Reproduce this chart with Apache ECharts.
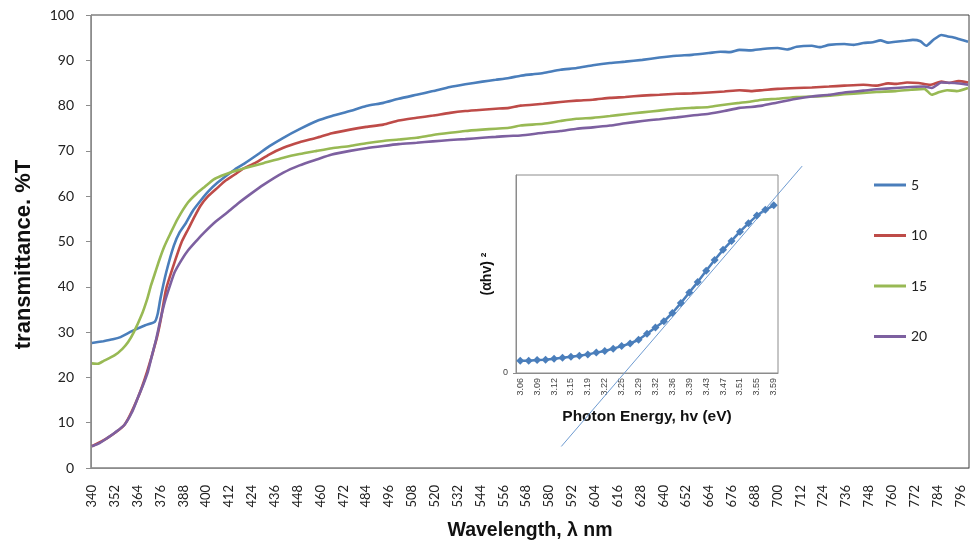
<!DOCTYPE html>
<html><head><meta charset="utf-8">
<script src="https://cdn.jsdelivr.net/npm/echarts/dist/echarts.min.js"></script>
<style>html,body{margin:0;padding:0;background:#fff}#c{width:973px;height:546px}</style>
</head><body><div id="c"></div>
<script>
// ---- main chart: wavelength categories (tick labels every 12 nm) ----
const wlStart = 340, wlEnd = 800;
const wlCategories = [];
for (let w = wlStart; w <= wlEnd; w++) wlCategories.push(String(w));
const seriesNames = ['5', '10', '15', '20'];

const wl5 = [340,346,351,355,361,368,373,374.5,376,379,383,386,389.5,393,397,401,406,415,420,427,433,440.5,449,458,466,475.5,484,493,501,510.5,519,528,536,545,552,559,565,571,577,586,594.5,603,612,620,629,638,647,655,664,670,675,680,686,692,700,705,710,718,722,727,735,740,745,750,754,758,762,767,771,775,778,782,786,789,792,796,800];
const t5  = [27.6,28.0,28.4,28.9,30.2,31.5,32.3,34,37.5,43.2,49.1,52,54.2,56.8,59,61,63,65.9,67.2,69.2,71.0,72.9,74.8,76.6,77.7,78.8,79.9,80.6,81.5,82.4,83.2,84.1,84.7,85.3,85.7,86.1,86.6,86.9,87.2,87.9,88.3,88.9,89.4,89.7,90.1,90.6,91,91.2,91.6,91.9,91.8,92.3,92.2,92.5,92.7,92.4,93,93.2,92.9,93.4,93.6,93.4,93.8,94.0,94.4,93.9,94.1,94.3,94.5,94.2,93.2,94.6,95.6,95.3,95.1,94.6,94.1];

const wl10 = [340,348,357,364,369,374,376,379,384,387,390.5,394,397,401,406,410,415,419,426,433,440.5,449,458,466,475.5,484,493,501,510.5,519,528,536,545,552,559,565,577,586,594.5,603,612,620,629,638,647,655,664,672,680,686,692,700,710,718,727,735,745,752,758,762,768,774,780,786,790,795,800];
const t10  = [4.8,6.6,9.5,15.4,21.3,28.6,32.5,39.6,46.2,49.8,52.7,55.6,57.9,60,61.9,63.4,64.8,66,67.4,69.2,70.7,71.9,72.9,73.9,74.7,75.3,75.8,76.7,77.3,77.8,78.4,78.8,79.1,79.3,79.5,80,80.4,80.8,81.1,81.3,81.7,81.9,82.2,82.4,82.6,82.7,82.9,83.1,83.4,83.2,83.4,83.7,83.9,84.0,84.2,84.4,84.6,84.4,84.9,84.8,85.1,85,84.6,85.3,85.0,85.4,85.1];

const wl15 = [340,343,346,352,356,359,362,366,369,371,373.5,375.6,378,381,385,390.4,395,399,404,408,413,418,423,430,440.5,449,458,466,475.5,484,493,501,510.5,519,528,536,545,552,559,565,577,586,594.5,603,612,620,629,638,647,655,664,672,680,686,692,700,710,718,727,735,745,752,762,770,777,781,785,789,794,800];
const t15  = [23.1,23.0,23.6,24.9,26.3,27.8,30,33.7,37.3,40.3,43.5,46.2,48.9,51.6,55,58.6,60.6,62,63.7,64.5,65.3,65.9,66.5,67.3,68.5,69.3,70,70.6,71.1,71.7,72.2,72.5,72.9,73.5,74,74.4,74.7,74.9,75.1,75.6,76,76.6,77.1,77.3,77.7,78.1,78.5,78.9,79.3,79.5,79.7,80.2,80.6,80.9,81.3,81.5,81.9,82.0,82.2,82.5,82.8,83.0,83.2,83.5,83.7,82.4,83.0,83.4,83.2,83.9];

const wl20 = [340,344,348,352,357,361,364,367,369.4,371.5,373.8,376,378.2,381,383.4,387,390.4,395,399,405,411,417,423,430,440.5,449,458,466,475.5,484,493,501,510.5,519,528,536,545,552,559,565,577,586,594.5,603,612,620,629,638,647,655,664,672,680,686,692,700,710,718,727,735,745,752,762,770,777,781,786,793,800];
const t20  = [4.8,5.5,6.6,7.8,9.5,12.3,15.4,18.5,21.3,24.8,28.6,32.8,36.6,40.3,43.2,45.9,48,50.2,52,54.4,56.4,58.5,60.4,62.5,65.2,66.8,68.1,69.2,70,70.6,71.1,71.5,71.8,72.1,72.4,72.6,72.9,73.1,73.3,73.4,74,74.4,74.9,75.2,75.6,76.1,76.6,77.0,77.4,77.8,78.2,78.8,79.5,79.7,80,80.7,81.5,82.0,82.4,82.9,83.3,83.6,83.9,84.1,84.2,83.9,85.1,85.0,84.6];

const yMin = 0, yMax = 100, yStep = 10;

// ---- inset: Tauc plot ----
const energyLabels = ['3.06','3.08','3.09','3.11','3.12','3.14','3.15','3.17','3.19','3.20','3.22','3.24','3.25','3.27','3.29','3.31','3.32','3.34','3.36','3.38','3.39','3.41','3.43','3.45','3.47','3.49','3.51','3.53','3.55','3.57','3.59'];
const alphaHv2 = [6.2,6.2,6.6,6.7,7.2,7.7,8.2,8.7,9.4,10.3,11.1,12.3,13.6,14.9,16.8,19.8,23.0,26.1,30.3,35.3,40.7,45.9,51.6,57.1,62.2,66.7,71.4,75.6,79.5,82.4,84.7];
const insetYTicks = [0];
// tangent line end points (x in category-index units, y in inset units)
const tangentX = [4.86, 33.36];
const tangentY = [-37.1, 104.5];

const colors = ['#4A7EBB', '#BE4B48', '#98B954', '#7D60A0'];
const zip = (a, b) => a.map((v, i) => [v, b[i]]);
const mainData = [zip(wl5, t5), zip(wl10, t10), zip(wl15, t15), zip(wl20, t20)];

// inset geometry: index -0.5..30.5 over 262 px, value 0..100 over 198 px
const inL = 516, inT = 175, inW = 262, inH = 198;
const pxPerIdx = inW / energyLabels.length, pxPerVal = inH / 100;
// overlay grid with the same scale, larger extent, for the tangent line
const ovXMin = -0.5, ovXMax = 34.5, ovYMin = -40, ovYMax = 110;

const chart = echarts.init(document.getElementById('c'), null, {renderer: 'canvas'});
const axisGray = '#8c8c8c';
const option = {
  animation: false,
  backgroundColor: '#fff',
  grid: [
    {left: 91, right: 4, top: 15, bottom: 76, show: true, borderColor: '#404040', borderWidth: 1},
    {left: inL, top: inT, width: inW, height: inH, show: true, borderColor: axisGray, borderWidth: 1, backgroundColor: '#fff'},
    {left: inL, top: inT + inH - ovYMax * pxPerVal, width: (ovXMax - ovXMin) * pxPerIdx, height: (ovYMax - ovYMin) * pxPerVal, show: false}
  ],
  legend: {
    orient: 'vertical', left: 869, top: 173, itemWidth: 32, itemHeight: 3, itemGap: 36.5, icon: 'rect',
    data: seriesNames,
    textStyle: {fontSize: 14, fontFamily: 'Lato', color: '#222', lineHeight: 14}
  },
  xAxis: [
    {type: 'category', gridIndex: 0, data: wlCategories, boundaryGap: true,
     axisLine: {lineStyle: {color: axisGray, width: 1}},
     axisTick: {interval: 0, length: 4, lineStyle: {color: axisGray}},
     axisLabel: {interval: 11, rotate: 90, fontSize: 13, fontFamily: 'Lato', color: '#222', margin: 17},
     splitLine: {show: false},
     name: 'Wavelength, λ nm', nameLocation: 'middle', nameGap: 53,
     nameTextStyle: {fontWeight: 'bold', fontSize: 19.5, fontFamily: 'Liberation Sans', color: '#111'}},
    {type: 'value', gridIndex: 0, min: 339.5, max: 800.5, show: false},
    {type: 'category', gridIndex: 1, data: energyLabels, boundaryGap: true,
     axisLine: {onZero: false, lineStyle: {color: axisGray}},
     axisTick: {interval: 1, length: 3, lineStyle: {color: axisGray}},
     axisLabel: {interval: 1, rotate: 90, fontSize: 9, fontFamily: 'Liberation Sans', color: '#444', margin: 5},
     name: 'Photon Energy, hv (eV)', nameLocation: 'middle', nameGap: 36,
     nameTextStyle: {fontWeight: 'bold', fontSize: 15.5, fontFamily: 'Liberation Sans', color: '#111'}},
    {type: 'value', gridIndex: 2, min: ovXMin, max: ovXMax, show: false}
  ],
  yAxis: [
    {type: 'value', gridIndex: 0, min: yMin, max: yMax, interval: yStep,
     axisLine: {show: true, onZero: false, lineStyle: {color: axisGray}},
     axisTick: {show: true, length: 5, lineStyle: {color: axisGray}},
     splitLine: {show: false},
     axisLabel: {fontSize: 14, fontFamily: 'Lato', color: '#222', margin: 17},
     name: 'transmittance. %T', nameLocation: 'middle', nameRotate: 90, nameGap: 56,
     nameTextStyle: {fontWeight: 'bold', fontSize: 22, fontFamily: 'Liberation Sans', color: '#111', padding: [0, 26, 0, 0]}},
    {type: 'value', gridIndex: 1, min: 0, max: 100,
     axisLine: {show: true, onZero: false, lineStyle: {color: axisGray}},
     axisTick: {show: true, length: 3, customValues: insetYTicks, lineStyle: {color: axisGray}},
     splitLine: {show: false},
     axisLabel: {fontSize: 9, fontFamily: 'Liberation Sans', color: '#444', margin: 8, customValues: insetYTicks},
     name: '(αhv) ²', nameLocation: 'middle', nameRotate: 90, nameGap: 22,
     nameTextStyle: {fontWeight: 'bold', fontSize: 14, fontFamily: 'Liberation Sans', color: '#111'}},
    {type: 'value', gridIndex: 2, min: ovYMin, max: ovYMax, show: false}
  ],
  series: [
    ...seriesNames.map((n, i) => ({
      name: n, type: 'line', xAxisIndex: 1, yAxisIndex: 0, data: mainData[i],
      symbol: 'none', showSymbol: false, smooth: 0.2,
      lineStyle: {width: 2.6, color: colors[i]}, itemStyle: {color: colors[i]}
    })),
    {name: 'tauc', type: 'line', xAxisIndex: 2, yAxisIndex: 1, data: alphaHv2,
     symbol: 'diamond', symbolSize: 8, showAllSymbol: true,
     lineStyle: {width: 2.5, color: '#4A7EBB'}, itemStyle: {color: '#4A7EBB'}},
    {name: 'tangent', type: 'line', xAxisIndex: 3, yAxisIndex: 2, clip: false,
     data: zip(tangentX, tangentY), symbol: 'none', lineStyle: {width: 1, color: '#6E9BD1'}}
  ]
};
chart.setOption(option);
</script>
</body></html>
